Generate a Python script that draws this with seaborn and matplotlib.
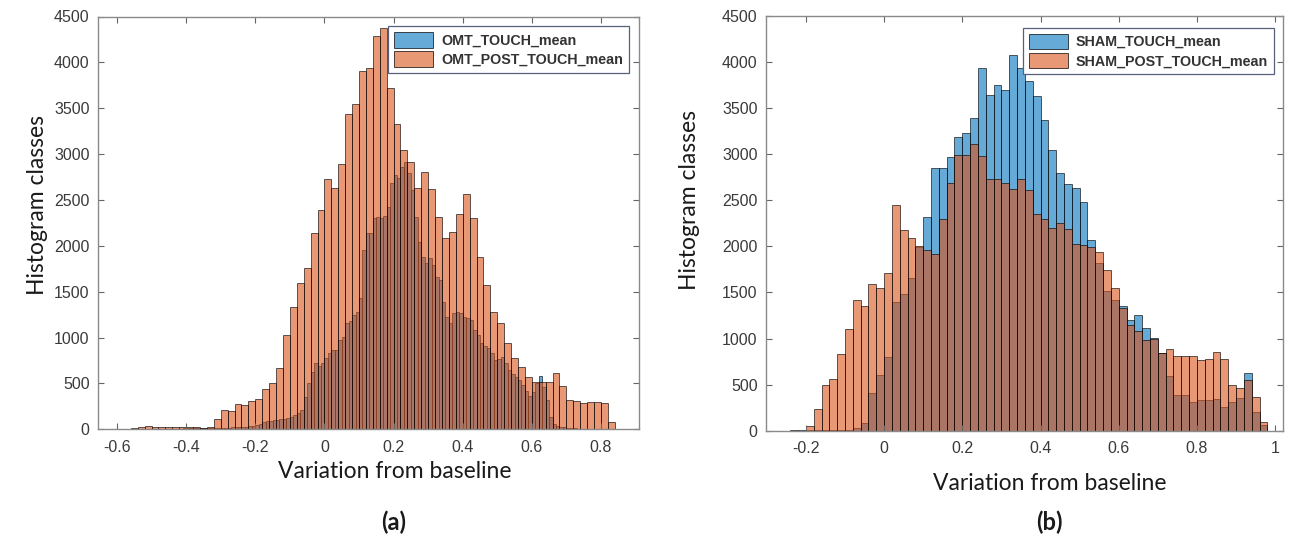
import numpy as np
import pandas as pd
import matplotlib
matplotlib.use("Agg")
import matplotlib.pyplot as plt
from matplotlib.patches import Patch
import seaborn as sns

# ---------------- data (counts) ----------------
# (a) OMT_TOUCH_mean : bins of width 0.01 starting at -0.60
omt_touch_start = -0.60
omt_touch_width = 0.01
omt_touch_counts = [
    2, 3, 6, 3, 3, 4, 4, 5, 5, 5, 6, 6, 6, 7, 7, 7, 8, 8, 8, 9,
    9, 9, 10, 10, 11, 11, 12, 12, 13, 14, 15, 16, 18, 20, 22, 25, 28, 30, 35, 40,
    48, 58, 75, 88, 95, 100, 105, 110, 115, 125,
    130, 156, 174, 210, 355, 501, 628, 719, 690, 719,
    774, 828, 865, 865, 974, 1010, 1156, 1184, 1246, 1275,
    1428, 1955, 2137, 2137, 2300, 2318, 2300, 2330, 2427, 2682,
    2772, 2736, 2863, 2918, 2791, 2609, 2318, 2045, 1882, 1810,
    1864, 1791, 1664, 1628, 1391, 1228, 1156, 1265, 1282, 1265,
    1228, 1210, 1190, 1083, 1028, 937, 910, 883, 828, 755,
    770, 792, 719, 646, 603, 574, 537, 480, 420, 360,
    410, 500, 581, 458, 319, 137, 58, 40, 30, 22,
    15, 12, 10, 8, 5, 4, 3, 2, 2, 1,
]
# (a) OMT_POST_TOUCH_mean : bins of width 0.02 starting at -0.58
omt_post_start = -0.58
omt_post_width = 0.02
omt_post_counts = [
    5, 10, 20, 35, 28, 25, 25, 25, 28, 22, 30, 15, 30,
    110, 215, 195, 272, 270, 310, 332, 438, 500, 665,
    1030, 1330, 1590, 1756, 2140, 2390,
    2726, 2628, 2893, 3440, 3547, 3904, 3938, 4291, 4374, 3720,
    3330, 3040, 2910, 2634, 2802, 2621, 2316, 2086, 2146, 2346,
    2565, 2302, 1883, 1574, 1283, 1156, 940, 778, 678, 568,
    514, 514, 516, 610, 472, 316, 312, 287, 303, 298,
    284, 82,
]
# (b) SHAM_TOUCH_mean : bins of width 0.02 starting at -0.24
sham_touch_start = -0.24
sham_touch_width = 0.02
sham_touch_counts = [
    10, 3, 4, 5, 6, 8, 10, 12, 25, 80, 414, 606,
    799, 1398, 1488, 1659, 1990, 2319, 2849, 2856, 2973, 3183,
    3227, 3390, 3938, 3644, 3753, 3702, 4072, 3935, 3790, 3637,
    3376, 3046, 2795, 2675, 2632, 2487, 2066, 1822, 1521, 1423,
    1350, 1205, 1260, 1114, 1005, 842, 595, 388, 388, 316,
    334, 334, 341, 261, 316, 352, 624, 207, 62,
]
# (b) SHAM_POST_TOUCH_mean : bins of width 0.02 starting at -0.20
sham_post_start = -0.20
sham_post_width = 0.02
sham_post_counts = [
    50, 232, 497, 559, 831, 1103, 1416, 1358, 1597, 1546,
    1713, 2446, 2178, 2090, 2003, 1956, 1920, 2294, 2686, 2991,
    2991, 3110, 2976, 2729, 2736, 2683, 2628, 2729, 2615, 2348,
    2294, 2203, 2258, 2193, 2022, 2010, 1995, 1942, 1739, 1550,
    1330, 1151, 1078, 987, 1000, 842, 886, 806, 806, 806,
    770, 775, 853, 777, 497, 468, 545, 363, 98,
]

labels_a = ["OMT_TOUCH_mean", "OMT_POST_TOUCH_mean"]
labels_b = ["SHAM_TOUCH_mean", "SHAM_POST_TOUCH_mean"]
yticks = [0, 500, 1000, 1500, 2000, 2500, 3000, 3500, 4000, 4500]
xticks_a = [-0.6, -0.4, -0.2, 0, 0.2, 0.4, 0.6, 0.8]
xticklabels_a = ["-0.6", "-0.4", "-0.2", "0", "0.2", "0.4", "0.6", "0.8"]
xticks_b = [-0.2, 0, 0.2, 0.4, 0.6, 0.8, 1.0]
xticklabels_b = ["-0.2", "0", "0.2", "0.4", "0.6", "0.8", "1"]
xlabel_text = "Variation from baseline"
ylabel_text = "Histogram classes"
panel_tags = ["(a)", "(b)"]

# ---------------- style ----------------
BLUE = (0.0, 0.447, 0.741, 0.6)
ORANGE = (0.85, 0.325, 0.098, 0.6)
EDGE = (0.0, 0.0, 0.0, 0.62)
W, H = 1302, 536

fig = plt.figure(figsize=(W / 100, H / 100), dpi=100)
fig.patch.set_facecolor("white")


def binned_frame(start, width, counts):
    n = len(counts)
    e = np.round(start + width * np.arange(n + 1), 4)
    c = (e[:-1] + e[1:]) / 2
    return pd.DataFrame({"center": c, "count": np.asarray(counts, float)}), [float(v) for v in e]


def draw(ax, series, xlim, xticks, xticklabels, legend_labels, leg_anchor):
    for (start, width, counts, face) in series:
        df, edges = binned_frame(start, width, counts)
        sns.histplot(data=df, x="center", weights="count", bins=edges, ax=ax,
                     stat="count", facecolor=face, edgecolor=EDGE, linewidth=0.7)
    ax.set_xlim(*xlim)
    ax.set_ylim(0, 4500)
    ax.set_yticks(yticks)
    ax.set_yticklabels([str(v) for v in yticks])
    ax.set_xticks(xticks)
    ax.set_xticklabels(xticklabels)
    ax.set_xlabel("")
    ax.set_ylabel("")
    for s in ax.spines.values():
        s.set_color("#8a8a8a")
        s.set_linewidth(1.0)
    ax.tick_params(direction="in", length=4, width=0.8, color="#666666",
                   top=True, right=True, labelsize=11.5, labelcolor="#3a3a3a")
    ax.tick_params(axis="x", pad=7.5)
    ax.tick_params(axis="y", pad=6)
    for lab in ax.get_xticklabels() + ax.get_yticklabels():
        lab.set_family(["Liberation Sans", "DejaVu Sans"])
    handles = [Patch(facecolor=BLUE, edgecolor=(0, 0, 0, 0.7), linewidth=0.7),
               Patch(facecolor=ORANGE, edgecolor=(0, 0, 0, 0.7), linewidth=0.7)]
    leg = ax.legend(handles, legend_labels, loc="upper right",
                    bbox_to_anchor=leg_anchor, frameon=True, fancybox=False,
                    framealpha=1, edgecolor="#56607a", borderpad=0.42,
                    labelspacing=0.25, handlelength=2.75, handleheight=1.3,
                    handletextpad=0.55, borderaxespad=0.0,
                    prop={"family": "Liberation Sans", "weight": "bold",
                          "size": 10.3})
    leg.get_frame().set_linewidth(0.9)
    for t in leg.get_texts():
        t.set_color("#333333")


ax_a = fig.add_axes([98 / W, 1 - 429.3 / H, (639 - 98) / W, (429.3 - 16.5) / H])
draw(ax_a,
     [(omt_touch_start, omt_touch_width, omt_touch_counts, BLUE),
      (omt_post_start, omt_post_width, omt_post_counts, ORANGE)],
     (-0.655, 0.91), xticks_a, xticklabels_a, labels_a, (0.9815, 0.977))

ax_b = fig.add_axes([766 / W, 1 - 430.7 / H, (1283 - 766) / W, (430.7 - 16) / H])
draw(ax_b,
     [(sham_touch_start, sham_touch_width, sham_touch_counts, BLUE),
      (sham_post_start, sham_post_width, sham_post_counts, ORANGE)],
     (-0.302, 1.02), xticks_b, xticklabels_b, labels_b, (0.9826, 0.972))

lab_font = dict(family=["Lato", "DejaVu Sans"], size=16.5, color="#1a1a1a")
fig.text(38 / W, 1 - 205 / H, ylabel_text, rotation=90, ha="center", va="center", **lab_font)
fig.text(690 / W, 1 - 200 / H, ylabel_text, rotation=90, ha="center", va="center", **lab_font)
fig.text(395 / W, 1 - 472 / H, xlabel_text, ha="center", va="center", **lab_font)
fig.text(1050 / W, 1 - 483 / H, xlabel_text, ha="center", va="center", **lab_font)
tag_font = dict(family=["Lato", "DejaVu Sans"], size=17, weight="bold", color="#1a1a1a")
fig.text(394 / W, 1 - 522 / H, panel_tags[0], ha="center", va="center", **tag_font)
fig.text(1049 / W, 1 - 522 / H, panel_tags[1], ha="center", va="center", **tag_font)

fig.savefig("out.png", dpi=100, facecolor="white")
